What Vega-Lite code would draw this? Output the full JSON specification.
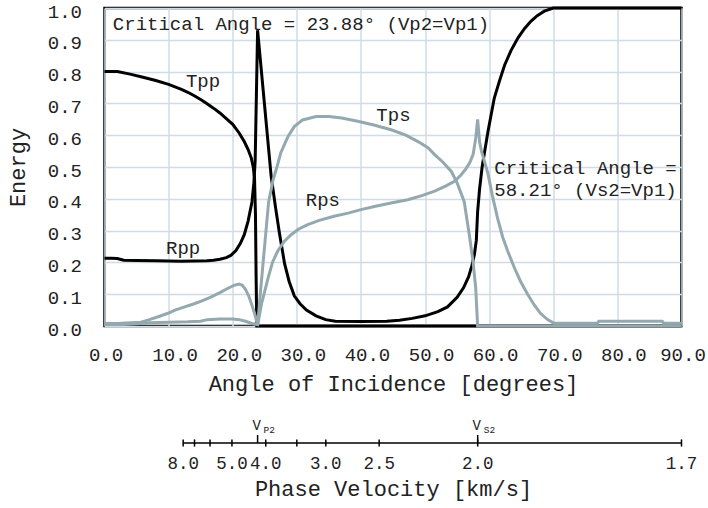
{
  "$schema": "https://vega.github.io/schema/vega-lite/v6.json",
  "background": "white",
  "padding": {"left": 4.5, "top": 0, "right": 5, "bottom": 5},
  "bounds": "flush",
  "spacing": 109,
  "config": {
    "font": "Liberation Mono",
    "view": {"stroke": null},
    "axis": {
      "labelFont": "Liberation Mono",
      "titleFont": "Liberation Mono",
      "labelColor": "#222",
      "titleColor": "#222",
      "titleFontWeight": "normal",
      "labelOverlap": false,
      "labelFlush": false,
      "labelBound": false
    }
  },
  "datasets": {
    "curves": [
      {"series": "Tpp", "angle": 0, "energy": 0.8},
      {"series": "Tpp", "angle": 2, "energy": 0.8},
      {"series": "Tpp", "angle": 4, "energy": 0.792},
      {"series": "Tpp", "angle": 6, "energy": 0.782},
      {"series": "Tpp", "angle": 8, "energy": 0.772},
      {"series": "Tpp", "angle": 10, "energy": 0.76},
      {"series": "Tpp", "angle": 11, "energy": 0.752},
      {"series": "Tpp", "angle": 12, "energy": 0.744},
      {"series": "Tpp", "angle": 13, "energy": 0.735},
      {"series": "Tpp", "angle": 14, "energy": 0.724},
      {"series": "Tpp", "angle": 15, "energy": 0.712},
      {"series": "Tpp", "angle": 16, "energy": 0.699},
      {"series": "Tpp", "angle": 17, "energy": 0.685},
      {"series": "Tpp", "angle": 18, "energy": 0.67},
      {"series": "Tpp", "angle": 19, "energy": 0.652},
      {"series": "Tpp", "angle": 20, "energy": 0.634},
      {"series": "Tpp", "angle": 21, "energy": 0.607},
      {"series": "Tpp", "angle": 21.8, "energy": 0.58},
      {"series": "Tpp", "angle": 22.4, "energy": 0.555},
      {"series": "Tpp", "angle": 22.9, "energy": 0.528},
      {"series": "Tpp", "angle": 23.2, "energy": 0.5},
      {"series": "Tpp", "angle": 23.4, "energy": 0.465},
      {"series": "Tpp", "angle": 23.55, "energy": 0.35},
      {"series": "Tpp", "angle": 23.65, "energy": 0.15},
      {"series": "Tpp", "angle": 23.75, "energy": 0.0},
      {"series": "Tpp", "angle": 90, "energy": 0.0},

      {"series": "Rpp", "angle": 0, "energy": 0.213},
      {"series": "Rpp", "angle": 1, "energy": 0.213},
      {"series": "Rpp", "angle": 2, "energy": 0.212},
      {"series": "Rpp", "angle": 3, "energy": 0.207},
      {"series": "Rpp", "angle": 5, "energy": 0.206},
      {"series": "Rpp", "angle": 8, "energy": 0.205},
      {"series": "Rpp", "angle": 12, "energy": 0.204},
      {"series": "Rpp", "angle": 16, "energy": 0.205},
      {"series": "Rpp", "angle": 17, "energy": 0.207},
      {"series": "Rpp", "angle": 18, "energy": 0.21},
      {"series": "Rpp", "angle": 19, "energy": 0.215},
      {"series": "Rpp", "angle": 19.7, "energy": 0.222},
      {"series": "Rpp", "angle": 20.5, "energy": 0.237},
      {"series": "Rpp", "angle": 21.2, "energy": 0.26},
      {"series": "Rpp", "angle": 21.8, "energy": 0.287},
      {"series": "Rpp", "angle": 22.4, "energy": 0.33},
      {"series": "Rpp", "angle": 23.0, "energy": 0.39},
      {"series": "Rpp", "angle": 23.3, "energy": 0.45},
      {"series": "Rpp", "angle": 23.5, "energy": 0.52},
      {"series": "Rpp", "angle": 23.88, "energy": 0.93},
      {"series": "Rpp", "angle": 26.0, "energy": 0.47},
      {"series": "Rpp", "angle": 26.7, "energy": 0.37},
      {"series": "Rpp", "angle": 27.3, "energy": 0.29},
      {"series": "Rpp", "angle": 28.1, "energy": 0.195},
      {"series": "Rpp", "angle": 28.8, "energy": 0.14},
      {"series": "Rpp", "angle": 29.6, "energy": 0.095},
      {"series": "Rpp", "angle": 30.5, "energy": 0.07},
      {"series": "Rpp", "angle": 31.5, "energy": 0.05},
      {"series": "Rpp", "angle": 33, "energy": 0.032},
      {"series": "Rpp", "angle": 34.5, "energy": 0.02},
      {"series": "Rpp", "angle": 36, "energy": 0.015},
      {"series": "Rpp", "angle": 40, "energy": 0.014},
      {"series": "Rpp", "angle": 44, "energy": 0.015},
      {"series": "Rpp", "angle": 46, "energy": 0.018},
      {"series": "Rpp", "angle": 48, "energy": 0.024},
      {"series": "Rpp", "angle": 50, "energy": 0.032},
      {"series": "Rpp", "angle": 52, "energy": 0.045},
      {"series": "Rpp", "angle": 53.5, "energy": 0.06},
      {"series": "Rpp", "angle": 55, "energy": 0.09},
      {"series": "Rpp", "angle": 56, "energy": 0.12},
      {"series": "Rpp", "angle": 56.8, "energy": 0.155},
      {"series": "Rpp", "angle": 57.3, "energy": 0.19},
      {"series": "Rpp", "angle": 57.7, "energy": 0.225},
      {"series": "Rpp", "angle": 58.0, "energy": 0.27},
      {"series": "Rpp", "angle": 58.2, "energy": 0.36},
      {"series": "Rpp", "angle": 58.5, "energy": 0.43},
      {"series": "Rpp", "angle": 58.9, "energy": 0.5},
      {"series": "Rpp", "angle": 59.8, "energy": 0.61},
      {"series": "Rpp", "angle": 60.8, "energy": 0.717},
      {"series": "Rpp", "angle": 61.6, "energy": 0.77},
      {"series": "Rpp", "angle": 62.4, "energy": 0.82},
      {"series": "Rpp", "angle": 63.4, "energy": 0.866},
      {"series": "Rpp", "angle": 64.5, "energy": 0.906},
      {"series": "Rpp", "angle": 65.5, "energy": 0.935},
      {"series": "Rpp", "angle": 66.5, "energy": 0.958},
      {"series": "Rpp", "angle": 67.5, "energy": 0.976},
      {"series": "Rpp", "angle": 68.6, "energy": 0.99},
      {"series": "Rpp", "angle": 70, "energy": 1.0},
      {"series": "Rpp", "angle": 90, "energy": 1.0},

      {"series": "Tps", "angle": 0, "energy": 0.008},
      {"series": "Tps", "angle": 2, "energy": 0.008},
      {"series": "Tps", "angle": 4, "energy": 0.01},
      {"series": "Tps", "angle": 5.7, "energy": 0.012},
      {"series": "Tps", "angle": 7, "energy": 0.02},
      {"series": "Tps", "angle": 8.5, "energy": 0.03},
      {"series": "Tps", "angle": 9.9, "energy": 0.04},
      {"series": "Tps", "angle": 11, "energy": 0.05},
      {"series": "Tps", "angle": 12.5, "energy": 0.06},
      {"series": "Tps", "angle": 14, "energy": 0.07},
      {"series": "Tps", "angle": 15.1, "energy": 0.078},
      {"series": "Tps", "angle": 16.5, "energy": 0.09},
      {"series": "Tps", "angle": 18, "energy": 0.105},
      {"series": "Tps", "angle": 19.2, "energy": 0.118},
      {"series": "Tps", "angle": 20.2, "energy": 0.128},
      {"series": "Tps", "angle": 21.0, "energy": 0.132},
      {"series": "Tps", "angle": 21.5, "energy": 0.128},
      {"series": "Tps", "angle": 22.0, "energy": 0.115},
      {"series": "Tps", "angle": 22.5, "energy": 0.094},
      {"series": "Tps", "angle": 23.0, "energy": 0.065},
      {"series": "Tps", "angle": 23.4, "energy": 0.04},
      {"series": "Tps", "angle": 23.6, "energy": 0.025},
      {"series": "Tps", "angle": 23.9, "energy": 0.004},
      {"series": "Tps", "angle": 24.2, "energy": 0.078},
      {"series": "Tps", "angle": 24.9, "energy": 0.235},
      {"series": "Tps", "angle": 25.6, "energy": 0.39},
      {"series": "Tps", "angle": 26.3, "energy": 0.46},
      {"series": "Tps", "angle": 26.9, "energy": 0.5},
      {"series": "Tps", "angle": 27.5, "energy": 0.545},
      {"series": "Tps", "angle": 28.6, "energy": 0.595},
      {"series": "Tps", "angle": 29.6, "energy": 0.627},
      {"series": "Tps", "angle": 30.9, "energy": 0.648},
      {"series": "Tps", "angle": 33, "energy": 0.659},
      {"series": "Tps", "angle": 35, "energy": 0.659},
      {"series": "Tps", "angle": 37, "energy": 0.654},
      {"series": "Tps", "angle": 39.5, "energy": 0.644},
      {"series": "Tps", "angle": 42, "energy": 0.632},
      {"series": "Tps", "angle": 44.7, "energy": 0.617},
      {"series": "Tps", "angle": 47, "energy": 0.6},
      {"series": "Tps", "angle": 48.9, "energy": 0.58},
      {"series": "Tps", "angle": 50.5, "energy": 0.56},
      {"series": "Tps", "angle": 51.5, "energy": 0.539},
      {"series": "Tps", "angle": 52.8, "energy": 0.515},
      {"series": "Tps", "angle": 54.1, "energy": 0.486},
      {"series": "Tps", "angle": 55.0, "energy": 0.45},
      {"series": "Tps", "angle": 56.1, "energy": 0.392},
      {"series": "Tps", "angle": 56.9, "energy": 0.287},
      {"series": "Tps", "angle": 57.5, "energy": 0.2},
      {"series": "Tps", "angle": 57.9, "energy": 0.12},
      {"series": "Tps", "angle": 58.1, "energy": 0.04},
      {"series": "Tps", "angle": 58.2, "energy": 0.0},
      {"series": "Tps", "angle": 90, "energy": 0.0},

      {"series": "Rps", "angle": 0, "energy": 0.005},
      {"series": "Rps", "angle": 3, "energy": 0.005},
      {"series": "Rps", "angle": 5, "energy": 0.007},
      {"series": "Rps", "angle": 7, "energy": 0.01},
      {"series": "Rps", "angle": 10, "energy": 0.012},
      {"series": "Rps", "angle": 13, "energy": 0.013},
      {"series": "Rps", "angle": 15, "energy": 0.015},
      {"series": "Rps", "angle": 16, "energy": 0.02},
      {"series": "Rps", "angle": 18, "energy": 0.022},
      {"series": "Rps", "angle": 20, "energy": 0.022},
      {"series": "Rps", "angle": 21, "energy": 0.02},
      {"series": "Rps", "angle": 22, "energy": 0.015},
      {"series": "Rps", "angle": 23, "energy": 0.008},
      {"series": "Rps", "angle": 23.9, "energy": 0.004},
      {"series": "Rps", "angle": 24.5, "energy": 0.07},
      {"series": "Rps", "angle": 25.5, "energy": 0.15},
      {"series": "Rps", "angle": 26.2, "energy": 0.2},
      {"series": "Rps", "angle": 27.0, "energy": 0.235},
      {"series": "Rps", "angle": 28, "energy": 0.265},
      {"series": "Rps", "angle": 29.1, "energy": 0.287},
      {"series": "Rps", "angle": 30.3, "energy": 0.305},
      {"series": "Rps", "angle": 31.7, "energy": 0.319},
      {"series": "Rps", "angle": 33.5, "energy": 0.332},
      {"series": "Rps", "angle": 35.8, "energy": 0.345},
      {"series": "Rps", "angle": 38, "energy": 0.355},
      {"series": "Rps", "angle": 40, "energy": 0.366},
      {"series": "Rps", "angle": 42.1, "energy": 0.376},
      {"series": "Rps", "angle": 44.5, "energy": 0.386},
      {"series": "Rps", "angle": 47.3, "energy": 0.397},
      {"series": "Rps", "angle": 49.5, "energy": 0.41},
      {"series": "Rps", "angle": 51.5, "energy": 0.424},
      {"series": "Rps", "angle": 53.2, "energy": 0.44},
      {"series": "Rps", "angle": 54.6, "energy": 0.455},
      {"series": "Rps", "angle": 55.6, "energy": 0.475},
      {"series": "Rps", "angle": 56.4, "energy": 0.495},
      {"series": "Rps", "angle": 57.0, "energy": 0.515},
      {"series": "Rps", "angle": 57.5, "energy": 0.54},
      {"series": "Rps", "angle": 57.9, "energy": 0.59},
      {"series": "Rps", "angle": 58.2, "energy": 0.65},
      {"series": "Rps", "angle": 58.5, "energy": 0.58},
      {"series": "Rps", "angle": 58.8, "energy": 0.55},
      {"series": "Rps", "angle": 59.3, "energy": 0.515},
      {"series": "Rps", "angle": 59.8, "energy": 0.48},
      {"series": "Rps", "angle": 60.5, "energy": 0.41},
      {"series": "Rps", "angle": 61.3, "energy": 0.34},
      {"series": "Rps", "angle": 62.1, "energy": 0.28},
      {"series": "Rps", "angle": 62.9, "energy": 0.235},
      {"series": "Rps", "angle": 64, "energy": 0.18},
      {"series": "Rps", "angle": 64.9, "energy": 0.14},
      {"series": "Rps", "angle": 66, "energy": 0.1},
      {"series": "Rps", "angle": 67, "energy": 0.067},
      {"series": "Rps", "angle": 68, "energy": 0.04},
      {"series": "Rps", "angle": 69.1, "energy": 0.02},
      {"series": "Rps", "angle": 70.1, "energy": 0.009},
      {"series": "Rps", "angle": 76.9, "energy": 0.009},
      {"series": "Rps", "angle": 77.1, "energy": 0.015},
      {"series": "Rps", "angle": 87, "energy": 0.015},
      {"series": "Rps", "angle": 87.2, "energy": 0.009},
      {"series": "Rps", "angle": 90, "energy": 0.009}
    ],
    "labels": [
      {"angle": 12.7, "energy": 0.752, "text": "Tpp"},
      {"angle": 9.6, "energy": 0.226, "text": "Rpp"},
      {"angle": 42.4, "energy": 0.646, "text": "Tps"},
      {"angle": 31.4, "energy": 0.378, "text": "Rps"},
      {"angle": 1.3, "energy": 0.932, "text": "Critical Angle = 23.88° (Vp2=Vp1)"},
      {"angle": 60.8, "energy": 0.479, "text": "Critical Angle ="},
      {"angle": 60.8, "energy": 0.408, "text": "58.21° (Vs2=Vp1)"}
    ],
    "velocityTicks": [
      {"angle": 12.27, "velocity": 8.0, "label": "8.0"},
      {"angle": 14.04, "velocity": 7.0, "label": ""},
      {"angle": 16.46, "velocity": 6.0, "label": ""},
      {"angle": 19.88, "velocity": 5.0, "label": "5.0"},
      {"angle": 25.15, "velocity": 4.0, "label": "4.0"},
      {"angle": 30.0, "velocity": 3.4, "label": ""},
      {"angle": 34.52, "velocity": 3.0, "label": "3.0"},
      {"angle": 42.84, "velocity": 2.5, "label": "2.5"},
      {"angle": 58.21, "velocity": 2.0, "label": "2.0"},
      {"angle": 90.0, "velocity": 1.7, "label": "1.7"}
    ],
    "criticalVelocities": [
      {"angle": 23.88, "symbol": "V", "sub": "P2"},
      {"angle": 58.21, "symbol": "V", "sub": "S2"}
    ]
  },
  "vconcat": [
    {
      "width": 577,
      "height": 318,
      "view": {"stroke": "#000", "strokeWidth": 2.5},
      "layer": [
        {
          "data": {"name": "curves"},
          "mark": {"type": "line", "clip": false},
          "encoding": {
            "x": {
              "field": "angle", "type": "quantitative",
              "scale": {"domain": [0, 90], "nice": false},
              "axis": {
                "title": "Angle of Incidence [degrees]",
                "values": [0, 10, 20, 30, 40, 50, 60, 70, 80, 90],
                "format": ".1f",
                "domain": false, "ticks": false,
                "grid": true, "gridColor": "#d0dce5", "gridWidth": 1.5,
                "labelOverlap": false,
                "labelFontSize": 19, "labelPadding": 19,
                "labelOffset": {"condition": {"test": "datum.value > 0 && datum.value < 90", "value": 6}, "value": 1},
                "titleFontSize": 22, "titlePadding": 9
              }
            },
            "y": {
              "field": "energy", "type": "quantitative",
              "scale": {"domain": [0, 1], "nice": false},
              "axis": {
                "title": "Energy",
                "values": [0, 0.1, 0.2, 0.3, 0.4, 0.5, 0.6, 0.7, 0.8, 0.9, 1.0],
                "tickCount": 11,
                "format": ".1f",
                "domain": false, "ticks": false,
                "grid": true, "gridColor": "#d0dce5", "gridWidth": 1.5,
                "labelOverlap": false,
                "labelFontSize": 19, "labelPadding": 23, "labelOffset": 3,
                "titleFontSize": 22, "titlePadding": 18
              }
            },
            "color": {
              "field": "series", "type": "nominal",
              "scale": {"domain": ["Tpp", "Rpp", "Tps", "Rps"], "range": ["#000000", "#000000", "#94a9af", "#94a9af"]},
              "legend": null
            },
            "strokeWidth": {
              "field": "series", "type": "nominal",
              "scale": {"domain": ["Tpp", "Rpp", "Tps", "Rps"], "range": [3, 3, 2.5, 2.5]},
              "legend": null
            }
          }
        },
        {
          "data": {"name": "labels"},
          "mark": {"type": "text", "align": "left", "baseline": "alphabetic", "fontSize": 19, "color": "#222"},
          "encoding": {
            "x": {"field": "angle", "type": "quantitative"},
            "y": {"field": "energy", "type": "quantitative"},
            "text": {"field": "text"}
          }
        }
      ]
    },
    {
      "width": 577,
      "height": 16,
      "layer": [
        {
          "data": {"name": "velocityTicks"},
          "transform": [{"aggregate": [{"op": "min", "field": "angle", "as": "first"}, {"op": "max", "field": "angle", "as": "last"}]}],
          "mark": {"type": "rule", "color": "#000", "strokeWidth": 1.5},
          "encoding": {
            "x": {
              "field": "first", "type": "quantitative",
              "scale": {"domain": [0, 90], "nice": false},
              "axis": {
                "title": "Phase Velocity [km/s]",
                "labels": false, "ticks": false, "domain": false, "grid": false,
                "titleFontSize": 22, "titlePadding": 27
              }
            },
            "x2": {"field": "last"},
            "y": {"datum": 0, "type": "quantitative", "scale": {"domain": [-1, 1], "nice": false}, "axis": null}
          }
        },
        {
          "data": {"name": "velocityTicks"},
          "mark": {"type": "rule", "color": "#000", "strokeWidth": 1.5},
          "encoding": {
            "x": {"field": "angle", "type": "quantitative"},
            "y": {"datum": -0.45, "type": "quantitative"},
            "y2": {"datum": 0.45}
          }
        },
        {
          "data": {"name": "velocityTicks"},
          "mark": {"type": "text", "baseline": "top", "dy": 4, "fontSize": 17.5, "color": "#222"},
          "encoding": {
            "x": {"field": "angle", "type": "quantitative"},
            "y": {"datum": -1, "type": "quantitative"},
            "text": {"field": "label"}
          }
        },
        {
          "data": {"name": "criticalVelocities"},
          "mark": {"type": "rule", "color": "#000", "strokeWidth": 1.5},
          "encoding": {
            "x": {"field": "angle", "type": "quantitative"},
            "y": {"datum": 0, "type": "quantitative"},
            "y2": {"datum": 1}
          }
        },
        {
          "data": {"name": "criticalVelocities"},
          "mark": {"type": "text", "align": "center", "baseline": "alphabetic", "dy": -5, "dx": -1, "fontSize": 14, "color": "#222"},
          "encoding": {
            "x": {"field": "angle", "type": "quantitative"},
            "y": {"datum": 1, "type": "quantitative"},
            "text": {"field": "symbol"}
          }
        },
        {
          "data": {"name": "criticalVelocities"},
          "mark": {"type": "text", "align": "left", "baseline": "alphabetic", "dy": -2, "dx": 6, "fontSize": 9.5, "color": "#222"},
          "encoding": {
            "x": {"field": "angle", "type": "quantitative"},
            "y": {"datum": 1, "type": "quantitative"},
            "text": {"field": "sub"}
          }
        }
      ]
    }
  ]
}
